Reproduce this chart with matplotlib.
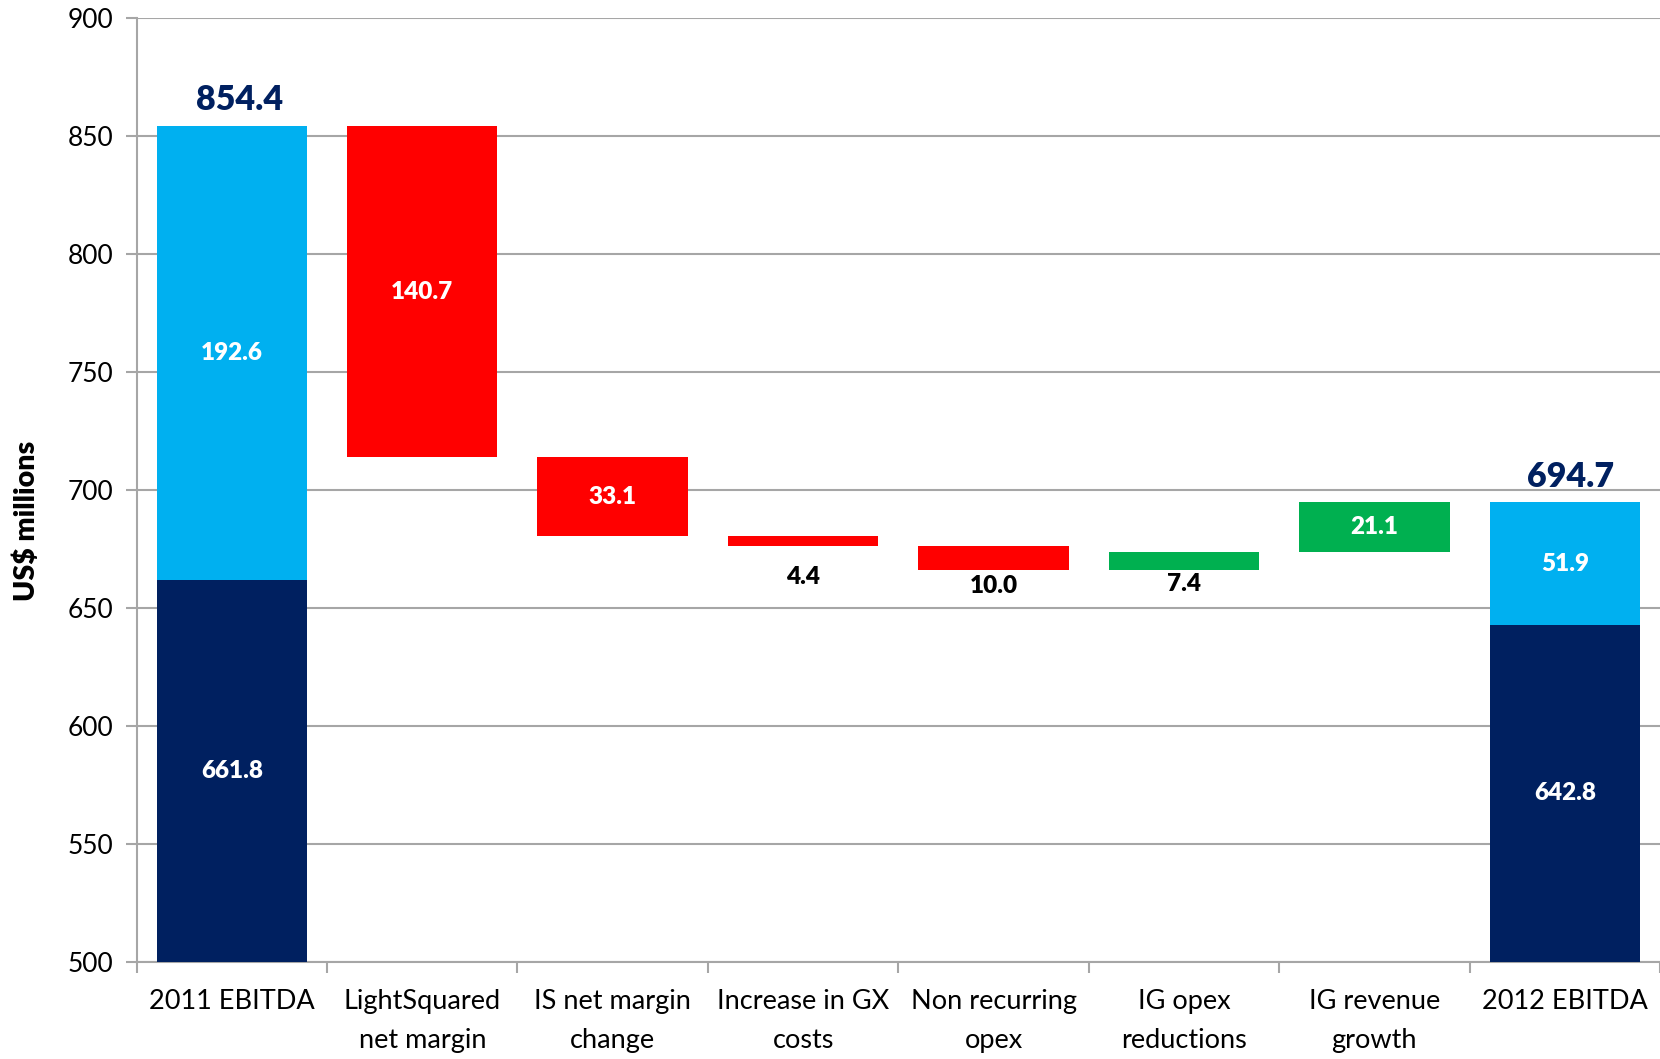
import numpy as np
from matplotlib import pyplot as plt

plt.rcParams['font.family'] = ['Lato', 'DejaVu Sans']

# data
categories = ['2011 EBITDA', 'LightSquared\nnet margin', 'IS net margin\nchange',
              'Increase in GX\ncosts', 'Non recurring\nopex', 'IG opex\nreductions',
              'IG revenue\ngrowth', '2012 EBITDA']
base_2011 = [661.8, 192.6]     # navy part, light blue part
base_2012 = [642.8, 51.9]
changes = [-140.7, -33.1, -4.4, -10.0, 7.4, 21.1]

NAVY = '#002060'
LIGHT = '#00B0F0'
RED = '#FF0000'
GREEN = '#00B050'
GRID = '#A6A6A6'
YMIN, YMAX = 500, 900

fig = plt.figure(figsize=(16.6, 10.59), dpi=100)
ax = fig.add_axes([0.0823, 0.092, 0.9177, 0.891])

width = 0.79
x = np.arange(len(categories))

# totals
start_total = sum(base_2011)
end_total = sum(base_2012)
ax.bar(x[0], base_2011[0], width, color=NAVY, zorder=3)
ax.bar(x[0], base_2011[1], width, bottom=base_2011[0], color=LIGHT, zorder=3)
ax.bar(x[-1], base_2012[0], width, color=NAVY, zorder=3)
ax.bar(x[-1], base_2012[1], width, bottom=base_2012[0], color=LIGHT, zorder=3)

lab_kw = dict(ha='center', va='center', fontweight='heavy', fontsize=17.5)
# labels sit in the middle of the visible part of each segment
ax.text(x[0], (YMIN + base_2011[0]) / 2, '%.1f' % base_2011[0], color='white', **lab_kw)
ax.text(x[0], base_2011[0] + base_2011[1] / 2, '%.1f' % base_2011[1], color='white', **lab_kw)
ax.text(x[-1], (YMIN + base_2012[0]) / 2, '%.1f' % base_2012[0], color='white', **lab_kw)
ax.text(x[-1], base_2012[0] + base_2012[1] / 2, '%.1f' % base_2012[1], color='white', **lab_kw)
ax.text(x[0] + 0.04, start_total + 4, '%.1f' % start_total, ha='center', va='bottom',
        fontweight='heavy', fontsize=24.5, color=NAVY)
ax.text(x[-1] + 0.03, end_total + 4, '%.1f' % end_total, ha='center', va='bottom',
        fontweight='heavy', fontsize=24.5, color=NAVY)

# floating steps
small_offset = {-4.4: 13, -10.0: 7, 7.4: 6}
level = start_total
for i, c in enumerate(changes):
    xi = x[i + 1]
    new = level + c
    lo, hi = min(level, new), max(level, new)
    ax.bar(xi, hi - lo, width, bottom=lo, color=RED if c < 0 else GREEN, zorder=3)
    if hi - lo > 15:
        ax.text(xi, (lo + hi) / 2, '%.1f' % abs(c), color='white', **lab_kw)
    else:
        ax.text(xi, lo - small_offset.get(c, 7), '%.1f' % abs(c), color='black',
                ha='center', va='center', fontweight='heavy', fontsize=17.5)
    level = new

ax.set_ylim(YMIN, YMAX)
ax.set_xlim(-0.5, len(categories) - 0.5)
ax.set_yticks(np.arange(YMIN, YMAX + 1, 50))
ax.yaxis.grid(True, color=GRID, linewidth=1.5, zorder=0)
ax.set_axisbelow(True)

ax.set_xticks(x)
ax.set_xticklabels(categories, fontsize=19.5, linespacing=1.7)
ax.set_xticks(np.arange(-0.5, len(categories)), minor=True)
ax.tick_params(axis='x', which='major', length=0, pad=20)
ax.tick_params(axis='x', which='minor', length=8, width=1.5, color=GRID)
ax.tick_params(axis='y', length=8, width=1.5, color=GRID, labelsize=19, pad=9)

for s in ['top', 'right']:
    ax.spines[s].set_visible(False)
for s in ['left', 'bottom']:
    ax.spines[s].set_color(GRID)
    ax.spines[s].set_linewidth(1.5)

fig.text(25 / 1568, 0.508, 'US$ millions', rotation=90, ha='center', va='center',
         fontsize=20.5, fontweight='heavy')

plt.savefig('out.png')
